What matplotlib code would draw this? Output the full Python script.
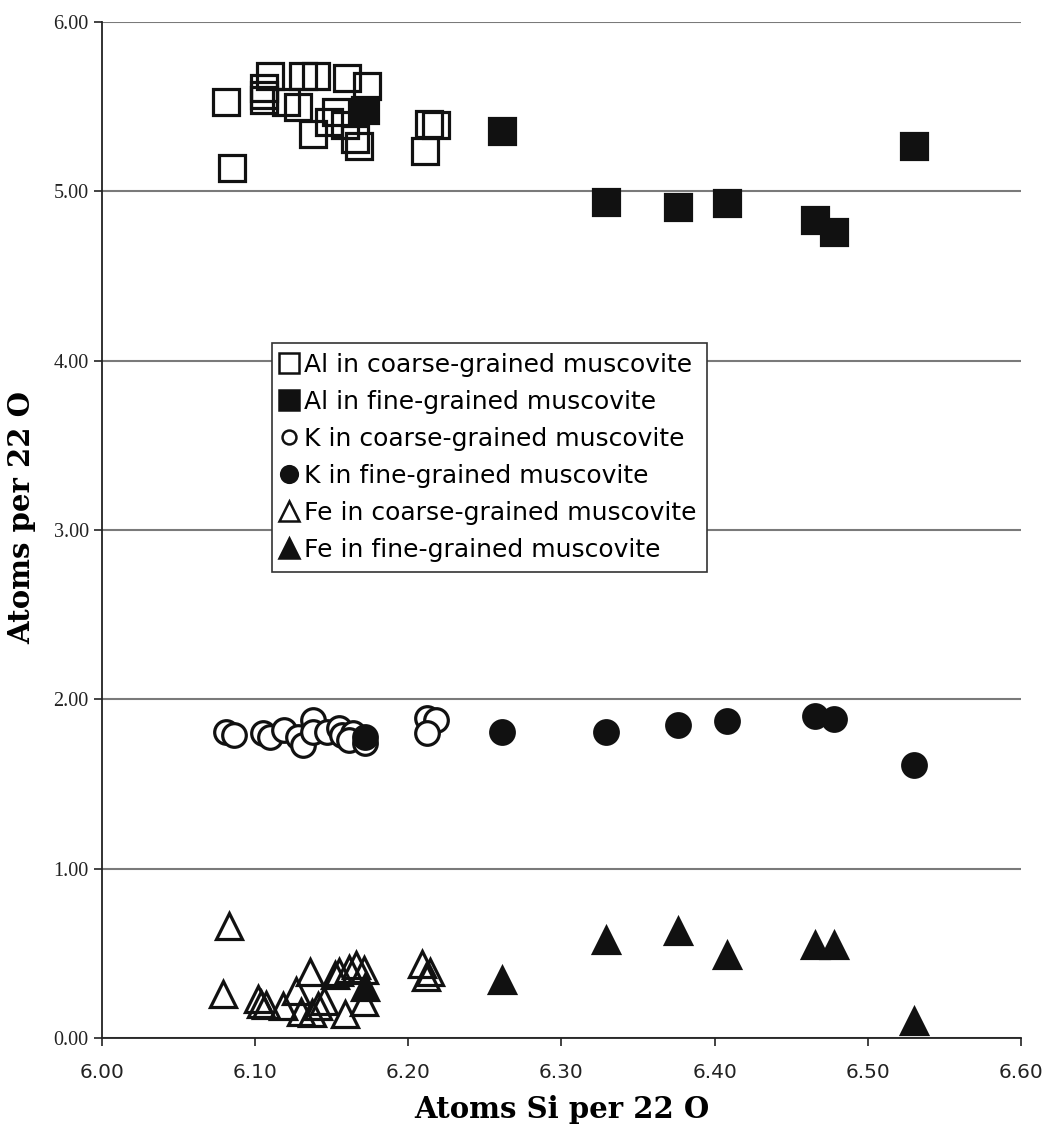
import numpy as np
import matplotlib
matplotlib.use("Agg")
import matplotlib.pyplot as plt
from matplotlib.lines import Line2D

# Si per 22 O for each analysis
si_coarse_al = [6.081, 6.085, 6.106, 6.106, 6.106, 6.110, 6.120, 6.128, 6.131, 6.140,
                6.138, 6.148, 6.153, 6.159, 6.160, 6.165, 6.168, 6.173, 6.211, 6.2135, 6.218]
al_coarse = [5.53, 5.14, 5.54, 5.61, 5.57, 5.68, 5.53, 5.50, 5.68, 5.68,
             5.34, 5.41, 5.47, 5.39, 5.67, 5.31, 5.27, 5.62, 5.24, 5.40, 5.39]

si_coarse_k = [6.081, 6.086, 6.105, 6.110, 6.119, 6.128, 6.131, 6.138, 6.138, 6.147,
               6.155, 6.157, 6.164, 6.161, 6.172, 6.212, 6.218, 6.212]
k_coarse = [1.81, 1.79, 1.80, 1.78, 1.82, 1.78, 1.73, 1.88, 1.81, 1.81,
            1.83, 1.79, 1.80, 1.76, 1.74, 1.89, 1.88, 1.80]

si_coarse_fe = [6.083, 6.079, 6.102, 6.107, 6.104, 6.118, 6.136, 6.127, 6.130, 6.137,
                6.141, 6.145, 6.152, 6.155, 6.161, 6.166, 6.171, 6.159, 6.171, 6.209,
                6.2145, 6.2115]
fe_coarse = [0.66, 0.26, 0.23, 0.195, 0.20, 0.19, 0.39, 0.28, 0.155, 0.15,
             0.19, 0.22, 0.37, 0.39, 0.41, 0.43, 0.40, 0.14, 0.21, 0.44,
             0.39, 0.36]

si_fine = [6.172, 6.2615, 6.329, 6.376, 6.408, 6.4655, 6.478, 6.530]
al_fine = [5.48, 5.355, 4.94, 4.905, 4.93, 4.83, 4.76, 5.27]
k_fine = [1.78, 1.81, 1.81, 1.85, 1.87, 1.90, 1.885, 1.615]
fe_fine = [0.30, 0.34, 0.58, 0.63, 0.49, 0.55, 0.55, 0.10]

labels = ["Al in coarse-grained muscovite", "Al in fine-grained muscovite",
          "K in coarse-grained muscovite", "K in fine-grained muscovite",
          "Fe in coarse-grained muscovite", "Fe in fine-grained muscovite"]

xticks = np.arange(6.0, 6.61, 0.1)
yticks = np.arange(0.0, 6.01, 1.0)

fig = plt.figure(figsize=(10.49, 11.30), dpi=100)
ax = fig.add_axes([0.0972, 0.0814, 0.876, 0.8991])

ink = "#111111"
common = dict(linestyle="none", markeredgecolor=ink, markeredgewidth=2.3)

ax.plot(si_coarse_al, al_coarse, marker="s", markersize=19, markerfacecolor="none", **common)
ax.plot(si_fine, al_fine, marker="s", markersize=19, markerfacecolor=ink, **common)
ax.plot(si_coarse_k, k_coarse, marker="o", markersize=17, markerfacecolor="white", **common)
ax.plot(si_fine, k_fine, marker="o", markersize=17, markerfacecolor=ink, **common)
ax.plot(si_coarse_fe, fe_coarse, marker="^", markersize=19, markerfacecolor="none", **common)
ax.plot(si_fine, fe_fine, marker="^", markersize=19, markerfacecolor=ink, **common)

ax.set_xlim(6.0, 6.6)
ax.set_ylim(0.0, 6.0)
ax.set_xticks(xticks)
ax.set_yticks(yticks)
ax.set_xticklabels([f"{v:.2f}" for v in xticks], fontsize=14.5, family="DejaVu Sans")
ax.set_yticklabels([f"{v:.2f}" for v in yticks], fontsize=14.5, family="Liberation Serif")
ax.tick_params(direction="out", length=6, width=1.2, colors="#222222")
ax.tick_params(axis="x", pad=12)

ax.yaxis.grid(True, color="#7a7a7a", linewidth=1.5)
ax.set_axisbelow(True)
for side in ("top", "right"):
    ax.spines[side].set_visible(False)
for side in ("left", "bottom"):
    ax.spines[side].set_color("#222222")
    ax.spines[side].set_linewidth(1.3)

ax.set_xlabel("Atoms Si per 22 O", fontsize=21, fontweight="bold",
              family="DejaVu Serif", labelpad=9)
ax.set_ylabel("Atoms per 22 O", fontsize=21, fontweight="bold",
              family="DejaVu Serif")
ax.yaxis.set_label_coords(-0.072, 0.512)

# legend keys are drawn smaller than the plotted markers
key = dict(common, markeredgewidth=1.8)
handles = [
    Line2D([], [], marker="s", markersize=14, markerfacecolor="none", **key),
    Line2D([], [], marker="s", markersize=14, markerfacecolor=ink, **key),
    Line2D([], [], marker="o", markersize=10, markerfacecolor="white", **key),
    Line2D([], [], marker="o", markersize=12, markerfacecolor=ink, **key),
    Line2D([], [], marker="^", markersize=14, markerfacecolor="none", **key),
    Line2D([], [], marker="^", markersize=14, markerfacecolor=ink, **key),
]
leg = ax.legend(handles, labels, loc="upper left", bbox_to_anchor=(0.185, 0.684),
                prop={"family": "DejaVu Sans", "size": 18}, frameon=True, fancybox=False,
                edgecolor="#333333", framealpha=1.0, handlelength=0.6, handletextpad=0.3,
                labelspacing=0.52, borderpad=0.4, borderaxespad=0)
leg.get_frame().set_linewidth(1.2)

fig.savefig("out.png", dpi=100, facecolor="white")
